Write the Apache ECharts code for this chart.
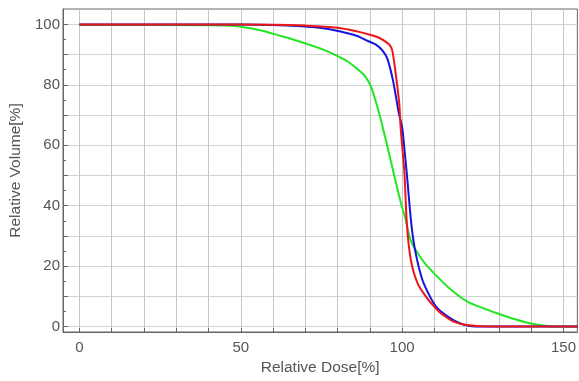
<!DOCTYPE html>
<html><head><meta charset="utf-8">
<script src="https://cdn.jsdelivr.net/npm/echarts@6/dist/echarts.min.js"></script>
<style>html,body{margin:0;padding:0;background:#fff}#c{width:579px;height:381px}</style>
</head><body><div id="c"></div>
<script>
// Relative Dose [%] (x) and Relative Volume [%] (y) for each curve
const redDose   = [0, 40, 60, 70, 80, 86, 90, 93, 95.5, 96.5, 97.1, 98.1, 99.1, 99.6, 100.7, 101.5, 102.7, 104.8, 107.8, 110, 112, 116, 120, 125, 130, 154.5];
const redVol    = [100, 100, 99.9, 99.6, 98.9, 97.7, 96.6, 95.5, 93.8, 92.6, 90.6, 83, 74, 65, 51, 33.5, 22, 14.3, 9.3, 6.5, 4.4, 1.6, 0.5, 0.1, 0, 0];

const blueDose  = [0, 40, 60, 68.8, 75, 80.2, 86.3, 89.4, 91.9, 94, 95.5, 97.1, 98.1, 99, 100, 100.6, 101.5, 102.9, 104.2, 106.3, 108.9, 111, 115, 118, 121, 125, 154.5];
const blueVol   = [100, 100, 99.8, 99.4, 98.8, 97.8, 96.1, 94.5, 93.3, 91.2, 88.4, 81.8, 76, 70.5, 66, 60, 50, 33.5, 24.3, 15.4, 9.4, 6, 2.7, 1, 0.2, 0, 0];

const greenDose = [0, 40, 49, 52.5, 57, 62.7, 66, 70.9, 75, 79.1, 83, 86.3, 88, 89.4, 90.5, 91.5, 92.5, 93.5, 95.5, 97.6, 99.6, 101.2, 102.2, 103.5, 104.5, 107, 109.9, 115, 120.2, 125, 129.4, 135, 140.7, 145.8, 150, 154.5];
const greenVol  = [99.8, 99.7, 99.4, 98.8, 97.8, 96.1, 95.1, 93.4, 91.9, 90, 87.8, 85.1, 83.5, 81.4, 79, 75.7, 72, 68, 59.3, 49.8, 41, 35, 30, 26.5, 24.8, 21, 17.6, 12.3, 8.2, 6.1, 4.4, 2.4, 0.8, 0.1, 0, 0];

const xLabelValues = [0, 50, 100, 150];
const xTickValues  = [0, 10, 20, 30, 40, 50, 60, 70, 80, 90, 100, 110, 120, 130, 140, 150];
const yLabelValues = [0, 20, 40, 60, 80, 100];
const yTickValues  = [0, 10, 20, 30, 40, 50, 60, 70, 80, 90, 100];
const yMinorValues = [5, 15, 25, 35, 45, 55, 65, 75, 85, 95];

const zip = (xs, ys) => xs.map((x, i) => [x, ys[i]]);

const X_MIN = -5.08, X_MAX = 154.3, Y_MIN = -1.82, Y_MAX = 105.1;
const font = 'Liberation Sans';
const chart = echarts.init(document.getElementById('c'), null, {renderer: 'canvas'});

const lineSeries = (name, xs, ys, color) => ({
  name, type: 'line', data: zip(xs, ys), showSymbol: false, symbol: 'none',
  smooth: 0.3, clip: true,
  lineStyle: {color, width: 2}, z: 3
});

chart.setOption({
  animation: false,
  backgroundColor: '#fff',
  grid: {left: 63, right: -2, top: 9, bottom: 49, show: true, borderColor: '#666', borderWidth: 1, backgroundColor: 'transparent'},
  xAxis: [{
    type: 'value', min: X_MIN, max: X_MAX, minInterval: 10, maxInterval: 10,
    name: 'Relative Dose[%]', nameLocation: 'middle', nameGap: 27,
    nameTextStyle: {color: '#555', fontSize: 15.5, fontFamily: font},
    axisLine: {show: true, onZero: false, lineStyle: {color: '#666', width: 1}},
    axisTick: {show: true, inside: true, length: 4, customValues: xTickValues, lineStyle: {color: '#666'}},
    axisLabel: {customValues: xLabelValues, color: '#555', fontSize: 15, fontFamily: font, margin: 8},
    splitLine: {show: true, lineStyle: {color: '#c6c6c6', width: 1}}
  }],
  yAxis: [{
    type: 'value', min: Y_MIN, max: Y_MAX, minInterval: 10, maxInterval: 10,
    name: 'Relative Volume[%]', nameLocation: 'middle', nameGap: 34,
    nameTextStyle: {color: '#555', fontSize: 15.5, fontFamily: font},
    axisLine: {show: true, onZero: false, lineStyle: {color: '#666', width: 1}},
    axisTick: {show: true, inside: true, length: 5, customValues: yTickValues, lineStyle: {color: '#666'}},
    axisLabel: {customValues: yLabelValues, color: '#555', fontSize: 15, fontFamily: font, margin: 3},
    splitLine: {show: true, lineStyle: {color: '#d2d2d2', width: 1}}
  }, {
    type: 'value', min: Y_MIN, max: Y_MAX, position: 'left', offset: 0,
    axisLine: {show: false, onZero: false},
    axisTick: {show: true, inside: true, length: 3, customValues: yMinorValues, lineStyle: {color: '#666'}},
    axisLabel: {show: false},
    splitLine: {show: false}
  }],
  series: [
    lineSeries('Green', greenDose, greenVol, '#22e622'),
    lineSeries('Blue', blueDose, blueVol, '#1414dc'),
    lineSeries('Red', redDose, redVol, '#ec1616')
  ]
});
</script>
</body></html>
